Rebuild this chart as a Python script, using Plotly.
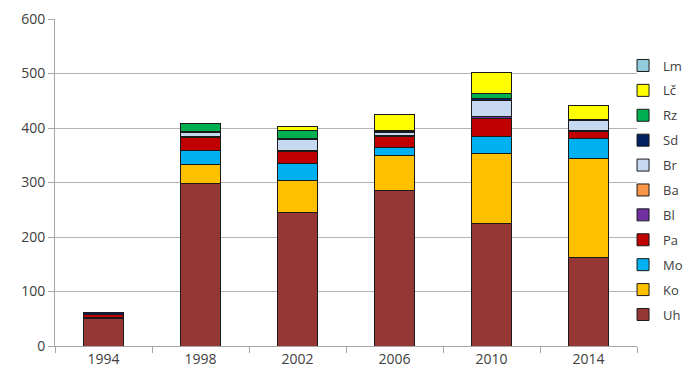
import plotly.graph_objects as go

years = ["1994", "1998", "2002", "2006", "2010", "2014"]

# stacked from bottom to top
series_names = ["Uh", "Ko", "Mo", "Pa", "Bl", "Ba", "Br", "Sd", "Rz", "Lč", "Lm"]
Uh = [50, 298, 245, 286, 225, 163]
Ko = [3, 35, 58, 64, 128, 181]
Mo = [0, 25, 32, 14, 32, 36]
Pa = [4, 25, 21, 21, 33, 13]
Bl = [0, 2, 2, 1, 3, 2]
Ba = [0, 0, 0, 0, 0, 0]
Br = [0, 6, 20, 6, 30, 18]
Sd = [4, 2, 2, 2, 3, 3]
Rz = [0, 16, 16, 2, 9, 0]
Lc = [0, 0, 7, 28, 38, 26]
Lm = [0, 0, 0, 0, 0, 0]

values = [Uh, Ko, Mo, Pa, Bl, Ba, Br, Sd, Rz, Lc, Lm]
colors = ["#953735", "#FFC000", "#00B0F0", "#C00000", "#7030A0", "#F79646",
          "#C6D9F1", "#002060", "#00B050", "#FFFF00", "#93CDDD"]

fig = go.Figure()
for i, (name, vals, col) in enumerate(zip(series_names, values, colors)):
    fig.add_trace(go.Bar(
        x=years, y=vals, name=name, legendgroup=name, legendrank=1000 - i,
        marker=dict(color=col, line=dict(color="#1a1a1a", width=1)),
    ))

font = dict(family="Open Sans, Liberation Sans, sans-serif", size=14, color="#404040")
fig.update_layout(
    width=699, height=389,
    barmode="stack", bargap=0.59,
    paper_bgcolor="white", plot_bgcolor="white",
    margin=dict(l=47, r=70, t=11, b=51, autoexpand=False),
    font=font,
    showlegend=True,
    legend=dict(traceorder="grouped", tracegroupgap=5, x=0.976, xanchor="left",
                y=0.477, yanchor="middle", font=dict(size=13, color="#404040"),
                itemwidth=30, borderwidth=0, bgcolor="rgba(0,0,0,0)"),
    xaxis=dict(type="category", showline=True, linecolor="#a6a6a6", linewidth=1,
               ticks="outside", tickson="boundaries", ticklen=6, tickcolor="#a6a6a6",
               showgrid=False, tickfont=font, automargin=False),
    yaxis=dict(range=[0, 600], dtick=100, showline=True, linecolor="#a6a6a6", linewidth=1,
               ticks="outside", ticklen=6, tickcolor="#a6a6a6",
               showgrid=True, gridcolor="#b4b4b4", gridwidth=1, zeroline=False,
               tickfont=font, automargin=False),
)

fig.write_html("out.html")
